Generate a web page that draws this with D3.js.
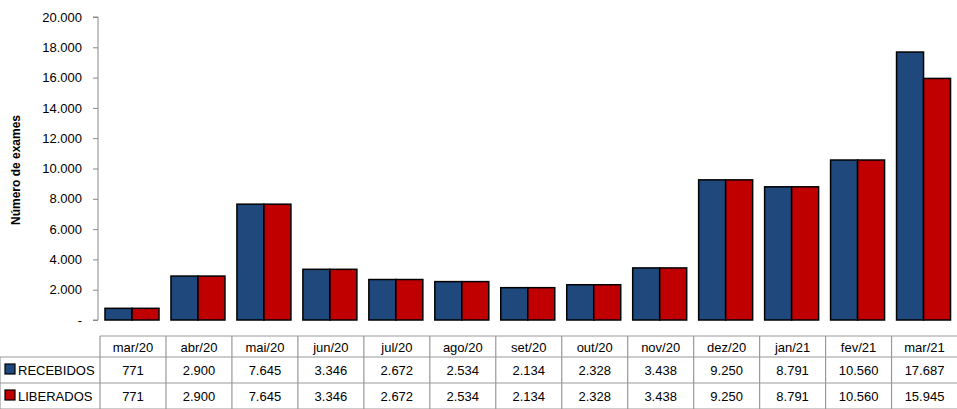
<!DOCTYPE html>
<html><head><meta charset="utf-8">
<script src="https://cdn.jsdelivr.net/npm/d3@7"></script>
<style>body{margin:0;background:#fff}text{font-family:"Liberation Sans",Arial,sans-serif}</style>
</head><body><svg id="c" width="957" height="409"></svg>
<script>
var months = ['mar/20','abr/20','mai/20','jun/20','jul/20','ago/20','set/20','out/20','nov/20','dez/20','jan/21','fev/21','mar/21'];
var recebidos = [771,2900,7645,3346,2672,2534,2134,2328,3438,9250,8791,10560,17687];
var liberados = [771,2900,7645,3346,2672,2534,2134,2328,3438,9250,8791,10560,15945];
var yTicks = [0,2000,4000,6000,8000,10000,12000,14000,16000,18000,20000];
var series = [{name:'RECEBIDOS', values:recebidos, color:'#1F497D'},
              {name:'LIBERADOS', values:liberados, color:'#C00000'}];

var svg = d3.select('#c');
var fmt = function(v){ return v === 0 ? '-' : d3.format(',')(v).replace(/,/g,'.'); };

var x = d3.scaleBand().domain(months).range([100, 957.5]);
var y = d3.scaleLinear().domain([0,20000]).range([320,17]);

// y axis
var ya = svg.append('g').attr('transform','translate(98,0)')
  .call(d3.axisLeft(y).tickValues(yTicks).tickSize(5).tickFormat(fmt));
ya.selectAll('path,line').attr('stroke','#888');
ya.select('.domain').attr('d','M-5,17H0V320H-5');
ya.selectAll('text').attr('font-size',13).attr('fill','#000').attr('x',-16);

svg.append('text').attr('transform','translate(20,170) rotate(-90)')
  .attr('text-anchor','middle').attr('font-size',12).attr('font-weight','bold').text('Número de exames');

// bars
var bw = 27;
series.forEach(function(s, i){
  svg.append('g').selectAll('rect').data(months).enter().append('rect')
    .attr('x', function(m){ return x(m) + 5 + i*bw; })
    .attr('width', bw)
    .attr('y', function(m,j){ return y(s.values[j]); })
    .attr('height', function(m,j){ return y(0) - y(s.values[j]); })
    .attr('fill', s.color).attr('stroke','#000').attr('stroke-width',1.5);
});

// table
var rowY = [336, 357, 383, 409];
var g = svg.append('g').attr('stroke','#999').attr('stroke-width',1.2);
g.append('line').attr('x1',100).attr('x2',957).attr('y1',rowY[0]).attr('y2',rowY[0]);
[1,2,3].forEach(function(r){
  g.append('line').attr('x1',0).attr('x2',957).attr('y1',rowY[r]).attr('y2',rowY[r]);
});
g.append('line').attr('x1',0).attr('x2',0).attr('y1',rowY[1]).attr('y2',rowY[3]);
months.forEach(function(m){
  g.append('line').attr('x1',x(m)).attr('x2',x(m)).attr('y1',rowY[0]).attr('y2',rowY[3]);
});
svg.selectAll('.hdr').data(months).enter().append('text')
  .attr('x', function(m){ return x(m) + x.bandwidth()/2; }).attr('y', 352)
  .attr('text-anchor','middle').attr('font-size',13).text(function(m){ return m; });
series.forEach(function(s, i){
  var cy = (rowY[i+1] + rowY[i+2])/2 + 5;
  svg.append('rect').attr('x',5).attr('y',cy-11).attr('width',10).attr('height',10)
    .attr('fill',s.color).attr('stroke','#000').attr('stroke-width',1.2);
  svg.append('text').attr('x',18).attr('y',cy).attr('font-size',13).text(s.name);
  svg.append('g').selectAll('text').data(s.values).enter().append('text')
    .attr('x', function(v,j){ return x(months[j]) + x.bandwidth()/2; }).attr('y', cy)
    .attr('text-anchor','middle').attr('font-size',13).text(fmt);
});
</script></body></html>
